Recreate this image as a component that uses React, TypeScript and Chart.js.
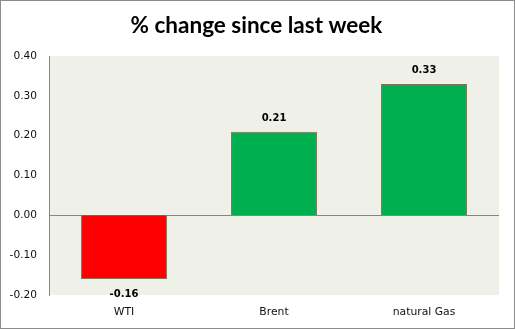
import React, { useEffect, useRef } from "react";
import { Chart, registerables } from "chart.js";

Chart.register(...registerables);

const categories = ["WTI", "Brent", "natural Gas"];
const values = [-0.16, 0.21, 0.33];
const barColors = ["#FF0000", "#00B050", "#00B050"];
const titleText = "% change since last week";

const framePlugin = {
  id: "frame",
  beforeDraw(chart: any) {
    const { ctx, width, height, chartArea } = chart;
    ctx.save();
    ctx.fillStyle = "#ffffff";
    ctx.fillRect(0, 0, width, height);
    ctx.fillStyle = "#EFF0E8";
    ctx.fillRect(chartArea.left, chartArea.top, chartArea.right - chartArea.left, chartArea.bottom - chartArea.top);
    ctx.strokeStyle = "#8C8C8C";
    ctx.lineWidth = 1;
    ctx.strokeRect(0.5, 0.5, width - 1, height - 1);
    ctx.fillStyle = "#000000";
    ctx.font = "bold 22.5px Lato";
    ctx.textAlign = "center";
    ctx.textBaseline = "alphabetic";
    ctx.fillText(titleText, width / 2 - 1, 33);
    ctx.restore();
  },
  afterDatasetsDraw(chart: any) {
    const { ctx } = chart;
    const meta = chart.getDatasetMeta(0);
    ctx.save();
    ctx.font = "bold 10px 'DejaVu Sans'";
    ctx.fillStyle = "#000000";
    ctx.textAlign = "center";
    ctx.textBaseline = "middle";
    meta.data.forEach((bar: any, i: number) => {
      const v = values[i];
      const y = v >= 0 ? bar.y - 13 : bar.y + 15;
      ctx.fillText(v.toFixed(2), bar.x, y);
    });
    ctx.restore();
  },
};

export default function App() {
  const ref = useRef<HTMLCanvasElement>(null);
  useEffect(() => {
    const chart = new Chart(ref.current!, {
      type: "bar",
      data: {
        labels: categories,
        datasets: [
          {
            data: values,
            backgroundColor: barColors,
            borderColor: "#7F7759",
            borderWidth: 1,
            barPercentage: 0.573,
            categoryPercentage: 1,
          },
        ],
      },
      options: {
        responsive: false,
        animation: false,
        layout: { padding: { top: 56, right: 16, left: 0, bottom: 0 } },
        plugins: { legend: { display: false }, tooltip: { enabled: false }, title: { display: false } },
        scales: {
          x: {
            grid: { display: false, drawTicks: false },
            border: { display: false },
            ticks: { color: "#111", font: { family: "DejaVu Sans", size: 10.8 }, padding: 11 },
            afterFit(scale: any) {
              scale.height = 34;
            },
          },
          y: {
            min: -0.2,
            max: 0.4,
            ticks: {
              stepSize: 0.1,
              color: "#111",
              font: { family: "DejaVu Sans", size: 10.6 },
              padding: 12,
              callback: (v: any) => Number(v).toFixed(2),
            },
            grid: {
              drawTicks: false,
              color: (c: any) => (c.tick && Math.abs(c.tick.value) < 1e-9 ? "#868686" : "rgba(0,0,0,0)"),
            },
            border: { display: true, color: "#868686" },
            afterFit(scale: any) {
              scale.width = 49;
            },
          },
        },
      },
      plugins: [framePlugin],
    });
    return () => chart.destroy();
  }, []);
  return (
    <div style={{ position: "fixed", left: 0, top: 0, width: 515, height: 329 }}>
      <canvas ref={ref} width={515} height={329} style={{ width: 515, height: 329, display: "block" }} />
    </div>
  );
}
